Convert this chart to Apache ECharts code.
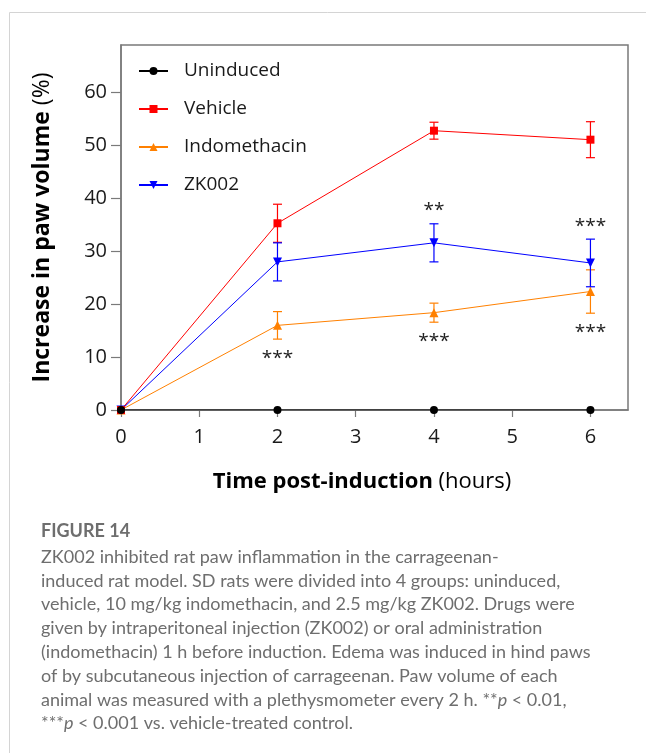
<!DOCTYPE html>
<html><head><meta charset="utf-8">
<script src="https://cdn.jsdelivr.net/npm/echarts@6/dist/echarts.min.js"></script>
<style>html,body{margin:0;padding:0;background:#fff}#c{width:646px;height:753px}</style>
</head><body><div id="c"></div>
<script>
// ---- data ----
const hours = [0, 2, 4, 6];
const xTicks = [0, 1, 2, 3, 4, 5, 6];
const yTicks = [0, 10, 20, 30, 40, 50, 60];
const seriesNames = ['Uninduced', 'Vehicle', 'Indomethacin', 'ZK002'];
const uninduced = [0, 0, 0, 0];
const vehicle = [0, 35.3, 52.8, 51.1];
const indomethacin = [0, 16.0, 18.4, 22.4];
const zk002 = [0, 28.0, 31.6, 27.8];
const vehicleSem = [0, 3.6, 1.6, 3.4];
const indomethacinSem = [0, 2.6, 1.8, 4.1];
const zk002Sem = [0, 3.6, 3.6, 4.5];
const zk002Sig = ['', '', '**', '***'];
const indomethacinSig = ['', '***', '***', '***'];
const xTitleBold = 'Time post-induction';
const xTitleUnit = '(hours)';
const yTitleBold = 'Increase in paw volume';
const yTitleUnit = '(%)';
const captionTitle = 'FIGURE 14';
const captionLines = [
  'ZK002 inhibited rat paw inflammation in the carrageenan-',
  'induced rat model. SD rats were divided into 4 groups: uninduced,',
  'vehicle, 10 mg/kg indomethacin, and 2.5 mg/kg ZK002. Drugs were',
  'given by intraperitoneal injection (ZK002) or oral administration',
  '(indomethacin) 1 h before induction. Edema was induced in hind paws',
  'of by subcutaneous injection of carrageenan. Paw volume of each',
  'animal was measured with a plethysmometer every 2 h. **p < 0.01,',
  '***p < 0.001 vs. vehicle-treated control.'
];

// ---- styling ----
const FONT = 'Open Sans';
const CAP_FONT = 'Lato';
const AXIS_COLOR = '#7a7a7a';
const TEXT_COLOR = '#1a1a1a';
const CAP_COLOR = '#6e6e6e';
const colors = { Uninduced: '#000000', Vehicle: '#ff0000', Indomethacin: '#ff8000', ZK002: '#0000ff' };

const pairs = (ys) => hours.map((h, i) => [h, ys[i]]);
const errData = (m, s) => hours.map((h, i) => [h, m[i] - s[i], m[i] + s[i]]).filter((d, i) => s[i] > 0);

function errRender(color) {
  return function (params, api) {
    const x = api.value(0), lo = api.value(1), hi = api.value(2);
    const p1 = api.coord([x, lo]), p2 = api.coord([x, hi]);
    const w = 4.5;
    const st = { stroke: color, lineWidth: 1.2 };
    return { type: 'group', children: [
      { type: 'line', shape: { x1: p1[0], y1: p1[1], x2: p2[0], y2: p2[1] }, style: st },
      { type: 'line', shape: { x1: p1[0] - w, y1: p1[1], x2: p1[0] + w, y2: p1[1] }, style: st },
      { type: 'line', shape: { x1: p2[0] - w, y1: p2[1], x2: p2[0] + w, y2: p2[1] }, style: st }
    ] };
  };
}

function sigSeries(means, sems, labels, dir) {
  const data = hours.map((h, i) => [h, means[i] + dir * sems[i]]);
  return {
    type: 'custom', z: 5, silent: true,
    data: data,
    renderItem: function (params, api) {
      const t = labels[params.dataIndex];
      if (!t) return null;
      const p = api.coord([api.value(0), api.value(1)]);
      return { type: 'text', x: p[0], y: p[1] - dir * 16 + 3,
        style: { text: t, align: 'center', verticalAlign: 'middle', fontFamily: FONT, fontSize: 19, fill: '#222' } };
    }
  };
}

function lineSeries(name, ys, symbol, size, rot) {
  return {
    name: name, type: 'line', data: pairs(ys), symbol: symbol, symbolSize: size, symbolRotate: rot || 0,
    showAllSymbol: true, z: 4,
    lineStyle: { color: colors[name], width: 1 },
    itemStyle: { color: colors[name] },
    emphasis: { disabled: true }
  };
}

const capRich = { i: { fontFamily: CAP_FONT, fontStyle: 'italic', fontSize: 18, fill: CAP_COLOR } };
const italicP = (t) => t.replace(/(\*+)p /g, '$1{i|p} ');

const chart = echarts.init(document.getElementById('c'), null, { renderer: 'canvas' });
const option = {
  animation: false,
  backgroundColor: '#ffffff',
  grid: { left: 121, top: 45, right: 18, bottom: 343, show: true, borderColor: AXIS_COLOR, borderWidth: 1.5, backgroundColor: 'transparent' },
  legend: {
    data: seriesNames, orient: 'vertical', left: 138, top: 61, padding: 0,
    itemWidth: 29, itemHeight: 10, itemGap: 18,
    textStyle: { fontFamily: FONT, fontSize: 19, color: TEXT_COLOR, lineHeight: 20, padding: [0, 0, 0, 11] }
  },
  xAxis: {
    type: 'value', min: 0, max: 6.48,
    axisLine: { lineStyle: { color: AXIS_COLOR, width: 1.5 } },
    axisTick: { show: true, customValues: xTicks, length: 7, lineStyle: { color: AXIS_COLOR, width: 1.2 } },
    axisLabel: { customValues: xTicks, fontFamily: FONT, fontSize: 20, color: TEXT_COLOR, margin: 17 },
    splitLine: { show: false }
  },
  yAxis: {
    type: 'value', min: 0, max: 69,
    axisLine: { show: true, lineStyle: { color: AXIS_COLOR, width: 1.5 } },
    axisTick: { show: true, customValues: yTicks, length: 10, lineStyle: { color: AXIS_COLOR, width: 1.2 } },
    axisLabel: { customValues: yTicks, fontFamily: FONT, fontSize: 20, color: TEXT_COLOR, margin: 14 },
    splitLine: { show: false }
  },
  series: [
    { type: 'custom', z: 3, silent: true, renderItem: errRender(colors.Vehicle), data: errData(vehicle, vehicleSem), encode: { x: 0, y: [1, 2] } },
    { type: 'custom', z: 3, silent: true, renderItem: errRender(colors.Indomethacin), data: errData(indomethacin, indomethacinSem), encode: { x: 0, y: [1, 2] } },
    { type: 'custom', z: 3, silent: true, renderItem: errRender(colors.ZK002), data: errData(zk002, zk002Sem), encode: { x: 0, y: [1, 2] } },
    lineSeries('Indomethacin', indomethacin, 'triangle', 9),
    lineSeries('ZK002', zk002, 'triangle', 9, 180),
    lineSeries('Vehicle', vehicle, 'rect', 8),
    lineSeries('Uninduced', uninduced, 'circle', 8),
    sigSeries(zk002, zk002Sem, zk002Sig, 1),
    sigSeries(indomethacin, indomethacinSem, indomethacinSig, -1)
  ],
  graphic: [
    { type: 'line', shape: { x1: 9.5, y1: 12.5, x2: 646, y2: 12.5 }, style: { stroke: '#d4d4d4', lineWidth: 1 } },
    { type: 'line', shape: { x1: 9.5, y1: 12.5, x2: 9.5, y2: 753 }, style: { stroke: '#d4d4d4', lineWidth: 1 } },
    { type: 'text', x: 362, y: 482, style: {
      text: '{b|' + xTitleBold + '}{n| ' + xTitleUnit + '}', align: 'center', verticalAlign: 'middle',
      rich: { b: { fontFamily: FONT, fontWeight: 'bold', fontSize: 22, fill: '#000' }, n: { fontFamily: FONT, fontSize: 22, fill: '#000' } } } },
    { type: 'text', x: 42.5, y: 227.5, rotation: Math.PI / 2, style: {
      text: '{b|' + yTitleBold + '}{n| ' + yTitleUnit + '}', align: 'center', verticalAlign: 'middle',
      rich: { b: { fontFamily: FONT, fontWeight: 'bold', fontSize: 23, fill: '#000' }, n: { fontFamily: FONT, fontSize: 23, fill: '#000' } } } },
    { type: 'text', x: 41, y: 531, style: { text: captionTitle, fontFamily: CAP_FONT, fontWeight: 'bold', fontSize: 18, fill: CAP_COLOR, verticalAlign: 'middle' } }
  ].concat(captionLines.map((t, i) => ({ type: 'text', x: 41, y: 557 + i * 23.8,
      style: { text: italicP(t), rich: capRich, fontFamily: CAP_FONT, fontSize: 18, fill: CAP_COLOR, verticalAlign: 'middle' } })))
};
chart.setOption(option);
</script>
</body></html>
